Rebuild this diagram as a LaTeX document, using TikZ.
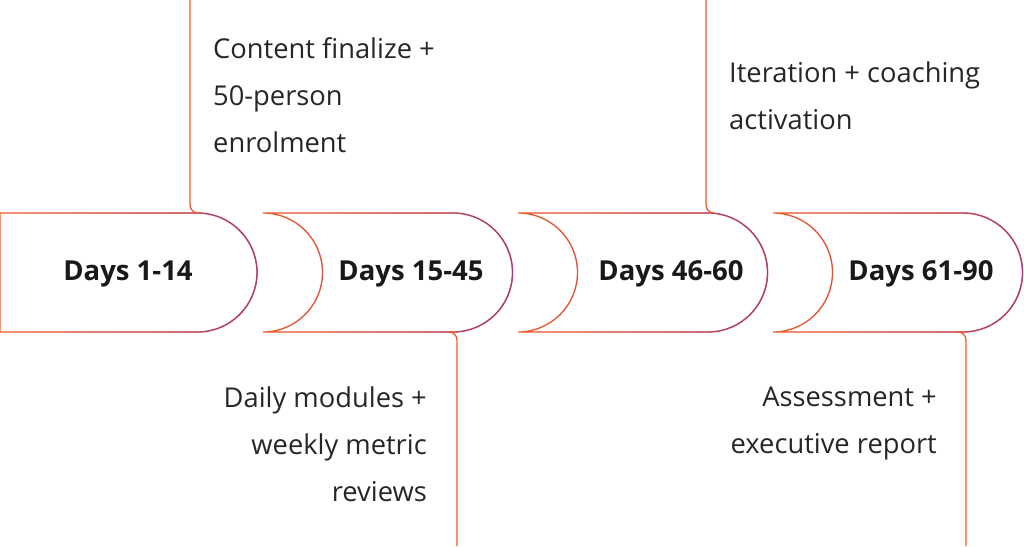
\documentclass[tikz,border=0pt]{standalone}
\usepackage{fontspec}
\setmainfont{Open Sans}
\usetikzlibrary{fadings}
\definecolor{orng}{HTML}{F15A29}
\definecolor{purp}{HTML}{A3407A}
\tikzset{
  phase/.style={draw=orng, line width=1.3pt},
  phasefade/.style={draw=purp, line width=1.3pt, path fading=west},
  stem/.style={draw=orng, line width=1.3pt, rounded corners=8pt},
  daylabel/.style={font=\fontsize{27.5}{32}\selectfont\bfseries, text=black!90},
  note/.style={font=\fontsize{27.3}{47}\selectfont, text=black!85, inner sep=0pt}
}
\begin{document}
\begin{tikzpicture}[x=1pt,y=1pt]
  \useasboundingbox (0,0) rectangle (1024,546);

  % first phase, flat left edge
  \path[phase] (0,333) -- (197.5,333) arc(90:-90:59.5) -- (0,214) -- cycle;
  \path[phasefade] (0,333) -- (197.5,333) arc(90:-90:59.5) -- (0,214) -- cycle;

  % other phases, notched left edge
  \foreach \l in {263,518,773}{
    \path[phase] (\l,333) -- ({\l+190},333) arc(90:-90:59.5) -- (\l,214) arc(-90:90:59.5) -- cycle;
    \path[phasefade] (\l,333) -- ({\l+190},333) arc(90:-90:59.5) -- (\l,214) arc(-90:90:59.5) -- cycle;
  }

  % labels
  \node[daylabel] (d1) at (128,272) {Days 1-14};
  \node[daylabel] (d2) at (411,272) {Days 15-45};
  \node[daylabel] (d3) at (671,272) {Days 46-60};
  \node[daylabel] (d4) at (921,272) {Days 61-90};

  % stems
  \coordinate (s1a) at (190,546);  \coordinate (s1b) at (190,333); \coordinate (s1c) at (200,333);
  \coordinate (s2a) at (453,214);  \coordinate (s2b) at (457,214); \coordinate (s2c) at (457,0);
  \coordinate (s3a) at (706,546);  \coordinate (s3b) at (706,333); \coordinate (s3c) at (714,333);
  \coordinate (s4a) at (962,214);  \coordinate (s4b) at (966,214); \coordinate (s4c) at (966,0);
  \draw[stem] (s1a) -- (s1b) -- (s1c);
  \draw[stem] (s2a) -- (s2b) -- (s2c);
  \draw[stem] (s3a) -- (s3b) -- (s3c);
  \draw[stem] (s4a) -- (s4b) -- (s4c);

  % notes
  \node[note, anchor=north west, align=left] (n1) at (213,509) {Content finalize +\\50-person\\enrolment};
  \node[note, anchor=north east, align=right] (n2) at (427,159) {Daily modules +\\weekly metric\\reviews};
  \node[note, anchor=north west, align=left] (n3) at (729,484) {Iteration + coaching\\activation};
  \node[note, anchor=north east, align=right] (n4) at (937,159) {Assessment +\\executive report};
\end{tikzpicture}
\end{document}
